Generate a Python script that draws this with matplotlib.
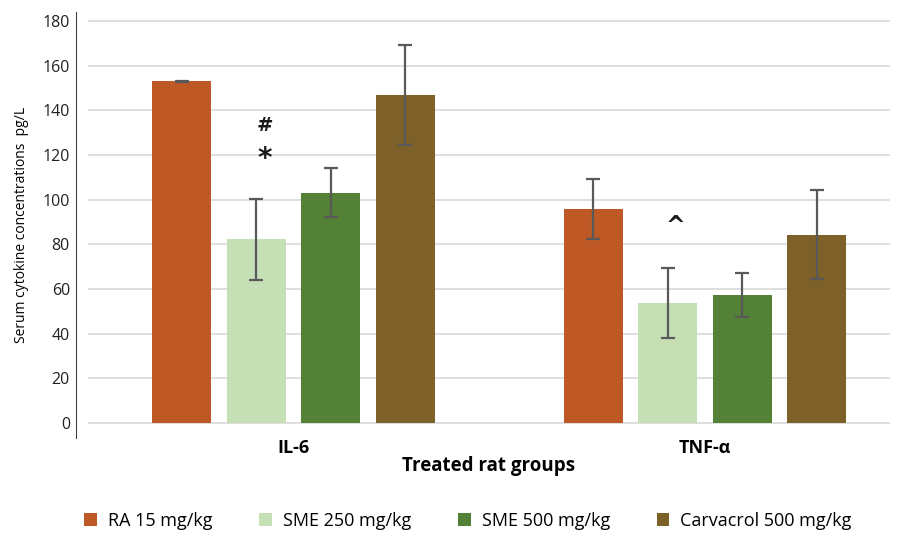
import numpy as np
import matplotlib.pyplot as plt

plt.rcParams['font.family'] = ['Open Sans', 'DejaVu Sans']

cytokines = ["IL-6", "TNF-\u03b1"]
groups = ["RA 15 mg/kg", "SME 250 mg/kg", "SME 500 mg/kg", "Carvacrol 500 mg/kg"]
means = {
    "RA 15 mg/kg": [153.0, 95.7],
    "SME 250 mg/kg": [82.2, 53.7],
    "SME 500 mg/kg": [103.1, 57.3],
    "Carvacrol 500 mg/kg": [147.0, 84.3],
}
errs = {
    "RA 15 mg/kg": [0.3, 13.4],
    "SME 250 mg/kg": [18.3, 15.5],
    "SME 500 mg/kg": [11.0, 9.8],
    "Carvacrol 500 mg/kg": [22.4, 20.0],
}
colors = ["#BE5926", "#C5E0B4", "#538135", "#7E6128"]
# significance marks: (cytokine index, group index, y, text)
marks = [(0, 1, 133, "#"), (0, 1, 118, "*"), (1, 1, 88, "^")]

fig = plt.figure(figsize=(9, 5.36), dpi=100)
ax = fig.add_axes([88 / 900, 1 - 438 / 536, (890 - 88) / 900, (438 - 12) / 536])

x = np.arange(len(cytokines))
step = 0.181
width = 0.1435
for i, g in enumerate(groups):
    pos = x + (i - 1.5) * step
    ax.bar(pos, means[g], width, color=colors[i], label=g, zorder=2)
    ax.errorbar(pos, means[g], yerr=errs[g], fmt="none", ecolor="#595959",
                elinewidth=1.6, capsize=5, capthick=1.6, zorder=3)

for ci, gi, y, t in marks:
    xp = x[ci] + (gi - 1.5) * step
    fs = {"*": 20, "#": 14, "^": 17}[t]
    ax.text(xp + 0.02, y, t, ha="center", va="center", fontsize=fs,
            fontweight="bold", color="#1a1a1a", family="DejaVu Sans")

ax.set_xlim(-0.5, 1.45)
ax.set_ylim(-6.7, 184)
ax.set_yticks(np.arange(0, 181, 20))
ax.yaxis.grid(True, color="#d9d9d9", linewidth=1.2, zorder=0)
ax.set_axisbelow(True)
for s in ["top", "right", "bottom"]:
    ax.spines[s].set_visible(False)
ax.spines["left"].set_position(("outward", 9))
ax.spines["left"].set_color("#404040")
ax.tick_params(axis="y", length=0, labelsize=11.5, pad=4, colors="#222222")
ax.set_xticks(x)
ax.set_xticklabels(cytokines, fontsize=13, fontweight="bold")
ax.tick_params(axis="x", length=0, pad=1)

ax.set_ylabel("Serum cytokine concentrations  pg/L", fontsize=10, labelpad=10)
ax.set_xlabel("Treated rat groups", fontsize=13.5, fontweight="bold", labelpad=-1)

fig.legend(loc="center", bbox_to_anchor=(468 / 900, 1 - 521 / 536), ncol=4,
           frameon=False, fontsize=13, handlelength=0.7, handleheight=0.7,
           handletextpad=0.6, columnspacing=2.6)

fig.savefig("out.png", dpi=100)
